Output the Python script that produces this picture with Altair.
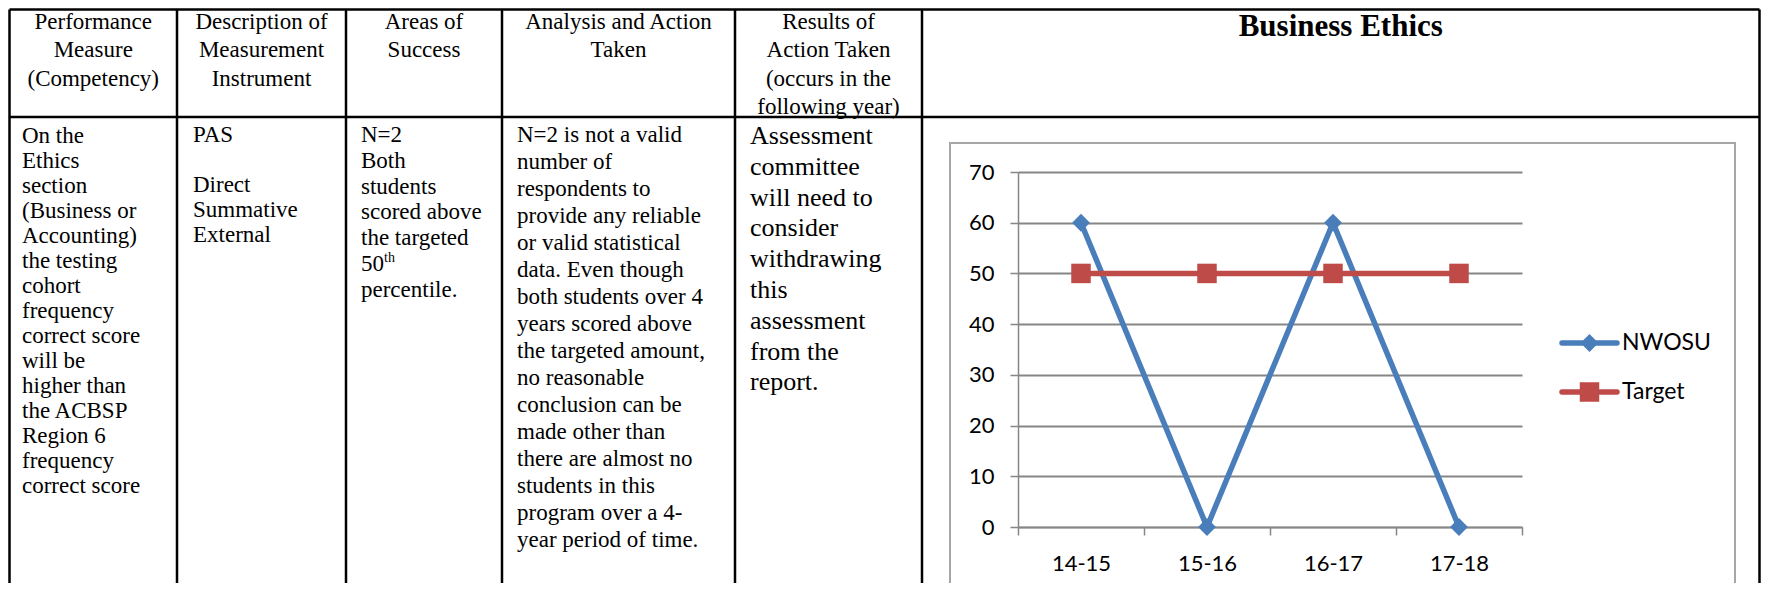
import altair as alt
import pandas as pd

# ------------------------------------------------------------------ data
header_lines = [
    ["Performance", "Measure", "(Competency)"],
    ["Description of", "Measurement", "Instrument"],
    ["Areas of", "Success"],
    ["Analysis and Action", "Taken"],
    ["Results of", "Action Taken", "(occurs in the", "following year)"],
]
chart_title = "Business Ethics"

body_lines = [
    ["On the", "Ethics", "section", "(Business or", "Accounting)", "the testing",
     "cohort", "frequency", "correct score", "will be", "higher than",
     "the ACBSP", "Region 6", "frequency", "correct score"],
    ["PAS", "", "Direct", "Summative", "External"],
    ["N=2", "Both", "students", "scored above", "the targeted", "50",
     "percentile."],
    ["N=2 is not a valid", "number of", "respondents to", "provide any reliable",
     "or valid statistical", "data. Even though", "both students over 4",
     "years scored above", "the targeted amount,", "no reasonable",
     "conclusion can be", "made other than", "there are almost no",
     "students in this", "program over a 4-", "year period of time."],
    ["Assessment", "committee", "will need to", "consider", "withdrawing",
     "this", "assessment", "from the", "report."],
]
superscript_text = "th"   # goes after "50" in the third column

years = ["14-15", "15-16", "16-17", "17-18"]
series = ["NWOSU", "Target"]
nwosu_values = [60, 0, 60, 0]
target_values = [50, 50, 50, 50]

# ------------------------------------------------------------------ layout
W, H = 1753, 575
col_edges = [1.5, 169, 338, 494, 727, 914, 1751.5]
top_edge = 1.5
header_bottom = 109
header_first_baseline = 20.5
header_lh = 28.5
header_font = 23
title_font = 31
title_baseline = 28

body_left_pad = [12.5, 16, 15, 15, 15]
body_first_baseline = [135, 134, 134, 134, 136]
body_lh = [25, 25, 25.8, 27, 30.8]
body_font = [23, 23, 23, 23, 26]

box = dict(x1=942, x2=1727, y1=135, y2=590)
plot_x_range = [1010, 1514]
plot_y_range = [519, 164]       # value 0 -> 519, value 70 -> 164
legend_y_range = [335, 384]
legend_line = (1554, 1609)
legend_text_x = 1614

BLUE = "#4A7EBB"
RED = "#BE4B48"
GRID = "#868686"
SERIF = "Liberation Serif"
SANS = "Lato"

# ------------------------------------------------------------------ table frames
segs = []
for x in col_edges:
    segs.append(dict(x1=x, x2=x, y1=top_edge, y2=H))
for y in (top_edge, header_bottom):
    segs.append(dict(x1=col_edges[0], x2=col_edges[-1], y1=y, y2=y))
segs_df = pd.DataFrame(segs)

head_rows = []
for j, lines in enumerate(header_lines):
    cx = (col_edges[j] + col_edges[j + 1]) / 2
    for i, t in enumerate(lines):
        head_rows.append(dict(x=cx, y=header_first_baseline + i * header_lh, text=t))
head_df = pd.DataFrame(head_rows)

title_df = pd.DataFrame([dict(x=(col_edges[5] + col_edges[6]) / 2,
                              y=title_baseline, text=chart_title)])

body_rows = []
for j, lines in enumerate(body_lines):
    x0 = col_edges[j] + body_left_pad[j]
    for i, t in enumerate(lines):
        if t:
            body_rows.append(dict(x=x0, y=body_first_baseline[j] + i * body_lh[j],
                                  text=t, fs=body_font[j]))
body_df = pd.DataFrame(body_rows)

sup_df = pd.DataFrame([dict(x=col_edges[2] + body_left_pad[2] + 23,
                            y=body_first_baseline[2] + 5 * body_lh[2] - 9,
                            text=superscript_text)])

box_df = pd.DataFrame([box])

tx = alt.Scale(domain=[0, W], range=[0, W], nice=False, zero=False)
ty = alt.Scale(domain=[0, H], range=[0, H], nice=False, zero=False)

rules = alt.Chart(segs_df).mark_rule(color="black", strokeWidth=2.5).encode(
    x=alt.X("x1:Q", scale=tx, axis=None), x2="x2:Q",
    y=alt.Y("y1:Q", scale=ty, axis=None), y2="y2:Q")

heads = alt.Chart(head_df).mark_text(
    align="center", baseline="alphabetic", font=SERIF, fontSize=header_font,
    color="black").encode(
    x=alt.X("x:Q", scale=tx, axis=None), y=alt.Y("y:Q", scale=ty, axis=None),
    text="text:N")

title = alt.Chart(title_df).mark_text(
    align="center", baseline="alphabetic", font=SERIF, fontSize=title_font,
    fontWeight="bold", color="black").encode(
    x=alt.X("x:Q", scale=tx, axis=None), y=alt.Y("y:Q", scale=ty, axis=None),
    text="text:N")

body = alt.Chart(body_df).mark_text(
    align="left", baseline="alphabetic", font=SERIF, color="black").encode(
    x=alt.X("x:Q", scale=tx, axis=None), y=alt.Y("y:Q", scale=ty, axis=None),
    text="text:N", size=alt.Size("fs:Q", scale=None, legend=None))

sup = alt.Chart(sup_df).mark_text(
    align="left", baseline="alphabetic", font=SERIF, fontSize=14,
    color="black").encode(
    x=alt.X("x:Q", scale=tx, axis=None), y=alt.Y("y:Q", scale=ty, axis=None),
    text="text:N")

chart_box = alt.Chart(box_df).mark_rect(
    fillOpacity=0, stroke="#A6A6A6", strokeWidth=2).encode(
    x=alt.X("x1:Q", scale=tx, axis=None), x2="x2:Q",
    y=alt.Y("y1:Q", scale=ty, axis=None), y2="y2:Q")

table = alt.layer(rules, heads, title, body, sup, chart_box)

# ------------------------------------------------------------------ line chart
rows = []
for s, vals in zip(series, [nwosu_values, target_values]):
    for yr, v in zip(years, vals):
        rows.append(dict(year=yr, series=s, value=v))
df = pd.DataFrame(rows)

color_scale = alt.Scale(domain=series, range=[BLUE, RED])
shape_scale = alt.Scale(domain=series, range=["diamond", "square"])
size_scale = alt.Scale(domain=series, range=[320, 380])

xenc = alt.X("year:N", sort=years,
             scale=alt.Scale(type="band", domain=years, range=plot_x_range,
                             paddingInner=0, paddingOuter=0),
             axis=alt.Axis(orient="bottom", offset=plot_y_range[0] - H,
                           title=None, labelAngle=0, tickBand="extent",
                           tickSize=8, tickColor=GRID, tickWidth=1.5,
                           domainColor=GRID, domainWidth=1.5,
                           labelFont=SANS, labelFontSize=22, labelColor="black",
                           labelPadding=18, grid=False))
yenc = alt.Y("value:Q",
             scale=alt.Scale(domain=[0, 70], range=plot_y_range, nice=False,
                             zero=True),
             axis=alt.Axis(orient="left", offset=-plot_x_range[0], title=None,
                           values=[0, 10, 20, 30, 40, 50, 60, 70],
                           tickSize=8, tickColor=GRID, tickWidth=1.5,
                           domainColor=GRID, domainWidth=1.5,
                           grid=True, gridColor=GRID, gridWidth=2,
                           labelFont=SANS, labelFontSize=22, labelColor="black",
                           labelPadding=16))

base = alt.Chart(df).encode(
    x=xenc, y=yenc,
    color=alt.Color("series:N", scale=color_scale, legend=None))

lines = base.mark_line(strokeWidth=5.5, strokeCap="round", strokeJoin="round")
points = base.mark_point(filled=True, opacity=1).encode(
    shape=alt.Shape("series:N", scale=shape_scale, legend=None),
    size=alt.Size("series:N", scale=size_scale, legend=None))

line_chart = alt.layer(lines, points)

# ------------------------------------------------------------------ legend
leg_df = pd.DataFrame({"series": series})
leg_y = alt.Y("series:N", scale=alt.Scale(type="point", domain=series,
                                          range=legend_y_range, padding=0),
              axis=None)
leg_rule = alt.Chart(leg_df).mark_rule(strokeWidth=5.5, strokeCap="round").encode(
    y=leg_y, x=alt.value(legend_line[0]), x2=alt.value(legend_line[1]),
    color=alt.Color("series:N", scale=color_scale, legend=None))
leg_pt = alt.Chart(leg_df).mark_point(filled=True, opacity=1).encode(
    y=leg_y, x=alt.value((legend_line[0] + legend_line[1]) / 2),
    color=alt.Color("series:N", scale=color_scale, legend=None),
    shape=alt.Shape("series:N", scale=shape_scale, legend=None),
    size=alt.Size("series:N", scale=size_scale, legend=None))
leg_txt = alt.Chart(leg_df).mark_text(
    align="left", baseline="middle", font=SANS, fontSize=23,
    color="black").encode(y=leg_y, x=alt.value(legend_text_x), text="series:N")
legend = alt.layer(leg_rule, leg_pt, leg_txt)

chart = alt.layer(table, line_chart, legend).resolve_scale(
    x="independent", y="independent"
).properties(
    width=W, height=H, padding=0, autosize="none"
).configure_view(strokeWidth=0)

chart.save("out.html", embed_options={"renderer": "svg", "actions": False})
